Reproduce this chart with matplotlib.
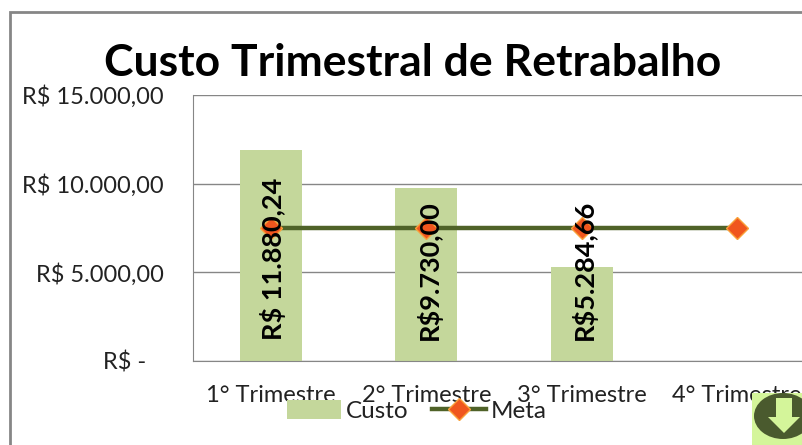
import matplotlib
matplotlib.use("Agg")
import matplotlib.pyplot as plt
from matplotlib.patches import Rectangle, Ellipse, Polygon

categories = ["1° Trimestre", "2° Trimestre", "3° Trimestre", "4° Trimestre"]
custo = [11880.24, 9730.00, 5284.66]
custo_labels = ["R$ 11.880,24", "R$9.730,00", "R$5.284,66"]
meta = [7500, 7500, 7500, 7500]
y_ticks = [0, 5000, 10000, 15000]
y_labels = ["R$ -   ", "R$ 5.000,00", "R$ 10.000,00", "R$ 15.000,00"]

plt.rcParams["font.family"] = ["Lato", "DejaVu Sans"]

W, H = 802, 445
fig = plt.figure(figsize=(W / 100, H / 100), dpi=100)

# outer chart frame, runs off the right and bottom of the crop
fig.add_artist(Rectangle((9.5 / W, -0.02), 1, 1 - 12.5 / H + 0.02, transform=fig.transFigure,
                         facecolor="white", edgecolor="#868686", linewidth=2, zorder=-1))

# axes is wider than the picture, the 4th category gets cut off
ax = fig.add_axes([193 / W, (H - 361) / H, 622 / W, 266 / H])
ax.set_facecolor("none")

x = list(range(len(categories)))
bars = ax.bar(x[:3], custo, width=0.4, color="#c4d79b", label="Custo", zorder=2)
line, = ax.plot(x, meta, color="#4f6228", linewidth=3.2, marker="D", markersize=11,
                markerfacecolor="#f0561e", markeredgecolor="#f9a13a", markeredgewidth=1,
                label="Meta", zorder=3)

for xi, lab in zip(x, custo_labels):
    ax.text(xi + 0.015, 1200, lab, rotation=90, ha="center", va="bottom",
            fontsize=19.5, fontweight="bold", color="black", zorder=4)

ax.set_xlim(-0.5, 3.5)
ax.set_ylim(0, 15000)
ax.set_xticks(x)
ax.set_xticklabels(categories, fontsize=17, color="#222222")
ax.set_yticks(y_ticks)
ax.set_yticklabels(y_labels, fontsize=17, color="#222222")
ax.tick_params(axis="both", length=0)
ax.tick_params(axis="y", pad=21)
ax.tick_params(axis="x", pad=17)
ax.grid(axis="y", color="#868686", linewidth=1, zorder=1)
ax.set_axisbelow(True)
for side in ["top", "right"]:
    ax.spines[side].set_visible(False)
for side in ["left", "bottom"]:
    ax.spines[side].set_color("#868686")

fig.text(413 / W, 1 - 63 / H, "Custo Trimestral de Retrabalho", ha="center", va="center",
         fontsize=32, fontweight="bold", color="black")

leg = fig.legend([bars, line], ["Custo", "Meta"], loc="center", bbox_to_anchor=(417 / W, 1 - 411 / H),
                 ncol=2, frameon=False, fontsize=17.5, handlelength=2.2, handleheight=0.8,
                 handletextpad=0.2, columnspacing=1.0, labelcolor="#222222", borderpad=0)
leg.set_zorder(4)

# download arrow badge in the corner
fig.add_artist(Rectangle((752 / W, 0), 50 / W, 52 / H, transform=fig.transFigure,
                         facecolor="#d4f59a", edgecolor="none", zorder=5))
fig.add_artist(Ellipse((783 / W, 1 - 416 / H), 58 / W, 46 / H, transform=fig.transFigure,
                       facecolor="#4a5a2e", edgecolor="none", zorder=6))
arrow = [(776, 398), (792, 398), (792, 417), (800, 417), (784, 433), (768, 417), (776, 417)]
fig.add_artist(Polygon([(a / W, 1 - b / H) for a, b in arrow], transform=fig.transFigure,
                       facecolor="#d4f59a", edgecolor="none", zorder=7))

fig.savefig("out.png", dpi=100)
